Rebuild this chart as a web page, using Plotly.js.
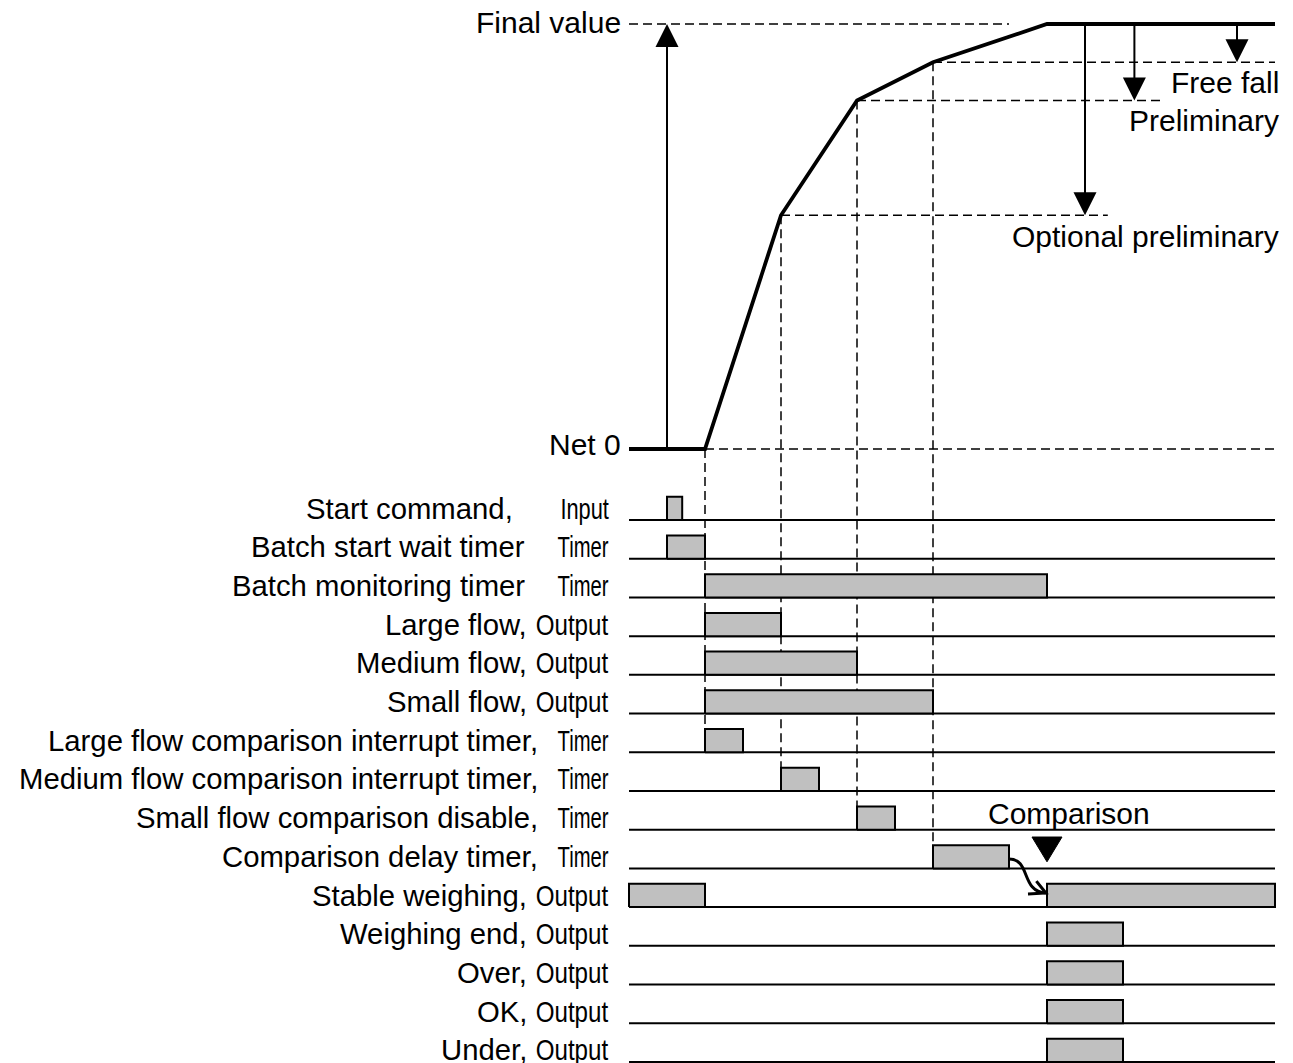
<!DOCTYPE html>
<html><head><meta charset="utf-8">
<script src="https://cdn.plot.ly/plotly-3.0.1.min.js"></script>
<style>html,body{margin:0;padding:0;background:#fff}#chart{width:1293px;height:1063px}</style>
</head><body><div id="chart"></div>
<script>
// ---- weight curve (time units, weight % of final value)
const curveT = [0, 2, 4, 6, 8, 11, 17];
const curveW = [0, 0, 55, 82, 91, 100, 100];

// ---- set-point levels
const levelNames  = ['Final value', 'Free fall', 'Preliminary', 'Optional preliminary', 'Net 0'];
const levelValues = [100, 91, 82, 55, 0];
const levelFrom   = [0, 8, 6, 4, 2];
const levelTo     = [10, 17, 14, 12.6, 17];

// ---- arrows
const upArrowT = 1;
const downArrowT = [12, 13.3, 16];
const downArrowTo = [55, 82, 91];

// ---- signals
const signalNames = ['Start command,', 'Batch start wait timer', 'Batch monitoring timer', 'Large flow,', 'Medium flow,', 'Small flow,',
  'Large flow comparison interrupt timer,', 'Medium flow comparison interrupt timer,', 'Small flow comparison disable,', 'Comparison delay timer,',
  'Stable weighing,', 'Weighing end,', 'Over,', 'OK,', 'Under,'];
const signalTypes = ['Input', 'Timer', 'Timer', 'Output', 'Output', 'Output', 'Timer', 'Timer', 'Timer', 'Timer',
  'Output', 'Output', 'Output', 'Output', 'Output'];
const signalOn = [
  [[1, 1.4]], [[1, 2]], [[2, 11]], [[2, 4]], [[2, 6]], [[2, 8]],
  [[2, 3]], [[4, 5]], [[6, 7]], [[8, 10]],
  [[0, 2], [11, 17]], [[11, 13]], [[11, 13]], [[11, 13]], [[11, 13]]
];
const signalStart = 0, signalEnd = 17;

// ---- drop lines from curve breakpoints to timers
const dropT = [2, 4, 6, 8];
const dropLevel = [0, 55, 82, 91];
const dropRow = [6, 7, 8, 9];

const comparisonT = 11;
const comparisonLabel = 'Comparison';

// ---------- layout geometry
const W = 1293, H = 1063;
const x0px = 629, pxPerT = 38;
const net0px = 449, pxPerW = 4.25;
const row0px = 520, pxPerRow = 38.71;
const HI = 0.6;
const xRange = [-x0px / pxPerT, (W - x0px) / pxPerT];
const wRange = [-(H - net0px) / pxPerW, net0px / pxPerW];
const rRange = [-(H - row0px) / pxPerRow, row0px / pxPerRow];
const w2r = w => (row0px - (net0px - pxPerW * w)) / pxPerRow;

const MAIN = 'Liberation Sans, Arial, Helvetica, sans-serif';
const typeWidth = {Input: 49, Timer: 51, Output: 73};

const traces = [];
// baselines
signalNames.forEach((n, i) => {
  traces.push({x: [signalStart, signalEnd], y: [-i, -i], yaxis: 'y2', mode: 'lines',
    line: {color: '#000', width: 2}, hoverinfo: 'skip'});
});
// bars
signalOn.forEach((ivs, i) => {
  const xs = [], ys = [];
  ivs.forEach(([a, b]) => {
    xs.push(a, a, b, b, a, null);
    ys.push(-i, -i + HI, -i + HI, -i, -i, null);
  });
  traces.push({x: xs, y: ys, yaxis: 'y2', mode: 'lines', fill: 'toself', fillcolor: '#c0c0c0',
    line: {color: '#000', width: 2}, hoverinfo: 'skip'});
});
// weight curve
traces.push({x: curveT, y: curveW, yaxis: 'y', mode: 'lines', line: {color: '#000', width: 3.8}, hoverinfo: 'skip'});

const dash = '9px,5px';
const shapes = [];
levelValues.forEach((v, k) => {
  shapes.push({type: 'line', xref: 'x', yref: 'y', x0: levelFrom[k], x1: levelTo[k], y0: v, y1: v,
    line: {color: '#000', width: 1.5, dash: dash}, layer: 'below'});
});
dropT.forEach((t, k) => {
  shapes.push({type: 'line', xref: 'x', yref: 'y2', x0: t, x1: t, y0: w2r(dropLevel[k]), y1: -dropRow[k] + HI,
    line: {color: '#000', width: 1.5, dash: dash}, layer: 'below'});
});
// comparison triangle
const triTop = -8.19, triBot = -8.83, triHalf = 0.395;
shapes.push({type: 'path', xref: 'x', yref: 'y2',
  path: `M${comparisonT - triHalf},${triTop} L${comparisonT + triHalf},${triTop} L${comparisonT},${triBot} Z`,
  fillcolor: '#000', line: {color: '#000', width: 1}});
// curly arrow from comparison delay end to stable weighing start
const cdEnd = signalOn[9][0][1];
shapes.push({type: 'path', xref: 'x', yref: 'y2',
  path: `M${cdEnd},-8.757 C${cdEnd + 0.58},-8.757 ${cdEnd + 0.3},-9.6 ${cdEnd + 0.97},-9.636`,
  line: {color: '#000', width: 3}});
shapes.push({type: 'path', xref: 'x', yref: 'y2',
  path: `M${cdEnd + 0.72},-9.33 L${cdEnd + 0.97},-9.636 L${cdEnd + 0.5},-9.66`,
  line: {color: '#000', width: 3}});

const annotations = [];
const arrowStyle = {showarrow: true, arrowhead: 2, arrowsize: 2.3, arrowwidth: 2, arrowcolor: '#000',
  xref: 'x', yref: 'y', axref: 'x', ayref: 'y', text: '', standoff: 0, startstandoff: 0};
annotations.push(Object.assign({}, arrowStyle, {x: upArrowT, y: 100, ax: upArrowT, ay: 0}));
downArrowT.forEach((t, k) => {
  annotations.push(Object.assign({}, arrowStyle, {x: t, y: downArrowTo[k], ax: t, ay: 100}));
});
// level labels
const lvlFont = {family: MAIN, size: 30, color: '#000'};
annotations.push({xref: 'paper', yref: 'y', x: 623 / W, y: levelValues[0] + 0.3, text: levelNames[0], showarrow: false,
  xanchor: 'right', yanchor: 'middle', font: lvlFont});
annotations.push({xref: 'paper', yref: 'y', x: 623 / W, y: levelValues[4] + 1.1, text: levelNames[4], showarrow: false,
  xanchor: 'right', yanchor: 'middle', font: lvlFont});
const rightLabelY = [86.35, 77.2, 50.1];
[1, 2, 3].forEach((k, j) => {
  annotations.push({xref: 'paper', yref: 'y', x: 1281 / W, y: rightLabelY[j], text: levelNames[k], showarrow: false,
    xanchor: 'right', yanchor: 'middle', font: lvlFont});
});
annotations.push({xref: 'x', yref: 'y2', x: comparisonT + 0.58, y: -7.58, text: comparisonLabel, showarrow: false,
  xanchor: 'center', yanchor: 'middle', font: lvlFont});
// row labels
signalNames.forEach((n, i) => {
  const tp = signalTypes[i];
  let right;
  if (tp === 'Output') right = 529;
  else if (tp === 'Input') right = 515;
  else right = n.endsWith(',') ? 540 : 527;
  annotations.push({xref: 'paper', yref: 'y2', x: right / W, y: -i + 0.31, text: n, showarrow: false,
    xanchor: 'right', yanchor: 'middle', font: {family: MAIN, size: 29.3, color: '#000'}});
  annotations.push({xref: 'paper', yref: 'y2', x: 611 / W, y: -i + 0.31, text: tp, showarrow: false,
    xanchor: 'right', yanchor: 'middle', font: {family: MAIN, size: 30, color: '#000'}});
});

const ax = {visible: false, showgrid: false, zeroline: false, fixedrange: true};
const layout = {
  width: W, height: H, margin: {l: 0, r: 0, t: 0, b: 0, pad: 0},
  paper_bgcolor: '#fff', plot_bgcolor: '#fff', showlegend: false,
  xaxis: Object.assign({}, ax, {range: xRange, domain: [0, 1]}),
  yaxis: Object.assign({}, ax, {range: wRange, domain: [0, 1]}),
  yaxis2: Object.assign({}, ax, {range: rRange, overlaying: 'y'}),
  shapes: shapes, annotations: annotations
};
Plotly.newPlot('chart', traces, layout, {staticPlot: true, displayModeBar: false}).then(() => {
  // condense the signal-type words (the original uses a narrow typeface)
  document.querySelectorAll('text.annotation-text').forEach(el => {
    const t = el.textContent;
    if (!(t in typeWidth)) return;
    const bb = el.getBBox();
    const s = typeWidth[t] / bb.width;
    const R = bb.x + bb.width;
    el.setAttribute('transform', `translate(${R * (1 - s)},0) scale(${s},1)`);
  });
});
</script></body></html>
